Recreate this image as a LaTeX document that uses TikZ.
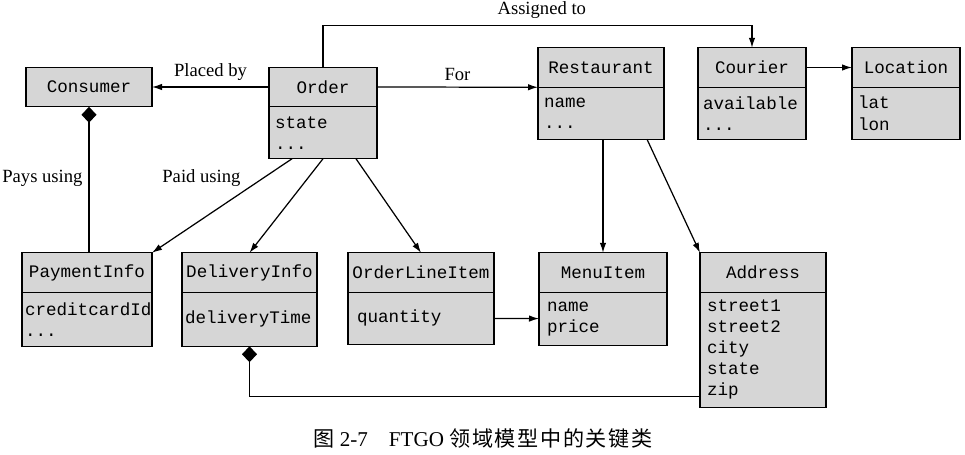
\documentclass[tikz,border=0pt]{standalone}
\usepackage{fontspec}
\setmainfont{Liberation Serif}
\setmonofont{Liberation Mono}
\newfontfamily\cjk[LetterSpace=8]{Noto Sans CJK SC}
\usepackage{xcolor}
\usepackage{tikz}
\usetikzlibrary{arrows.meta, positioning}
\definecolor{boxgray}{gray}{0.84}

\begin{document}
\begin{tikzpicture}[
  font=\fontsize{10}{12}\selectfont\ttfamily,
  cls/.style={draw, fill=boxgray, line width=0.7pt, outer sep=0pt,
              inner sep=0pt, minimum height=0.79cm},
  attr/.style={cls, align=left, inner xsep=0.12cm, inner ysep=0pt},
  lbl/.style={font=\fontsize{10.6}{12}\selectfont\rmfamily},
  ar/.style={-{Latex[length=2mm, width=1.3mm]}, line width=0.7pt},
  comp/.style={{Diamond[length=3.2mm, width=3mm]}-, line width=0.7pt}
]
\useasboundingbox (0,0) rectangle (19.3,-9.08);
\node[cls, minimum width=2.52cm] at (1.78,-1.74) (consumer) {Consumer};
\node[cls, minimum width=2.16cm] at (6.46,-1.74) (order) {Order};
\node[attr, text width=1.92cm, minimum height=1.04cm, below=0pt of order] (order-at) {state\\...};
\node[cls, minimum width=2.52cm] at (12.02,-1.35) (restaurant) {Restaurant};
\node[attr, text width=2.28cm, minimum height=1.04cm, below=0pt of restaurant] (restaurant-at) {name\\...};
\node[cls, minimum width=2.16cm] at (15.04,-1.35) (courier) {Courier};
\node[attr, inner xsep=0.1cm, text width=1.96cm, minimum height=1.04cm, below=0pt of courier] (courier-at) {available\\...};
\node[cls, minimum width=2.16cm] at (18.12,-1.35) (location) {Location};
\node[attr, text width=1.92cm, minimum height=1.04cm, below=0pt of location] (location-at) {lat\\lon};

\node[cls, minimum width=2.60cm] at (1.74,-5.45) (payment) {PaymentInfo};
\node[attr, inner xsep=0.06cm, text width=2.48cm, minimum height=1.08cm, below=0pt of payment] (payment-at) {creditcardId\\...};
\node[cls, minimum width=2.70cm] at (4.99,-5.45) (delivery) {DeliveryInfo};
\node[attr, inner xsep=0.06cm, text width=2.58cm, minimum height=1.08cm, below=0pt of delivery] (delivery-at) {deliveryTime};
\node[cls, minimum width=2.92cm] at (8.42,-5.45) (lineitem) {OrderLineItem};
\node[attr, inner xsep=0.18cm, text width=2.56cm, minimum height=1.04cm, below=0pt of lineitem] (lineitem-at) {quantity};
\node[cls, minimum width=2.56cm] at (12.06,-5.45) (menu) {MenuItem};
\node[attr, inner xsep=0.16cm, text width=2.24cm, minimum height=1.06cm, below=0pt of menu] (menu-at) {name\\price};
\node[cls, minimum width=2.52cm] at (15.26,-5.45) (address) {Address};
\node[attr, inner xsep=0.14cm, text width=2.24cm, minimum height=2.30cm, below=0pt of address] (address-at) {street1\\street2\\city\\state\\zip};

\node[font=\fontsize{12}{14}\selectfont\rmfamily] at (9.66,-8.76) (caption)
     {{\cjk 图} 2-7{\cjk 　}FTGO {\cjk 领域模型中的关键类}};

\draw[ar] (order) -- node[lbl, above] {Placed by} (consumer);
\draw[ar] (order.east) -- node[lbl, above] {For} (restaurant.south west);
\draw[ar] (order.north) -- ++(0,0.84) -| node[lbl, above, pos=0.255] {Assigned to} (courier.north);
\draw[ar] (courier) -- (location);
\draw[comp] (consumer.south) -- node[lbl, left, pos=0.49] {Pays using} (consumer.south |- payment.north);
\draw[ar] ([xshift=-0.62cm]order-at.south) -- node[lbl, pos=0.2, left=0.34cm] {Paid using} (payment.north east);
\draw[ar] (order-at.south) -- (delivery.north);
\draw[ar] ([xshift=0.66cm]order-at.south) -- (lineitem.north);
\draw[ar] (menu.north |- restaurant-at.south) -- (menu.north);
\draw[ar] ([xshift=0.92cm]restaurant-at.south) -- (address.north west);
\draw[ar] (lineitem-at) -- (menu-at);
\draw[comp] (delivery-at.south) |- ([yshift=-0.93cm]address-at.west);
\end{tikzpicture}
\end{document}
